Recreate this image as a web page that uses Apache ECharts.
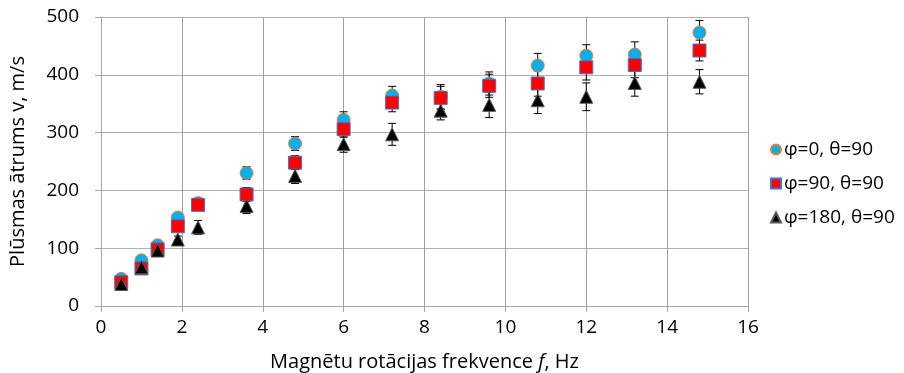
<!DOCTYPE html>
<html>
<head>
<meta charset="utf-8">
<script src="https://cdn.jsdelivr.net/npm/echarts@6/dist/echarts.min.js"></script>
<style>
  html, body { margin: 0; padding: 0; background: #fff; }
  #chart { width: 904px; height: 373px; }
</style>
</head>
<body>
<div id="chart"></div>
<script>
// Rotation frequency of the magnets, Hz
const freq = [0.5, 1.0, 1.4, 1.9, 2.4, 3.6, 4.8, 6.0, 7.2, 8.4, 9.6, 10.8, 12.0, 13.2, 14.8];

// Flow velocity, m/s, for each magnet orientation
const seriesNames = ['φ=0, θ=90', 'φ=90, θ=90', 'φ=180, θ=90'];
const vPhi0   = [47, 79, 105, 153, 178, 230, 281, 322, 364, 362, 385, 416, 433, 435, 473];
const vPhi90  = [41, 65, 98, 138, 175, 193, 248, 306, 352, 360, 381, 385, 413, 417, 442];
const vPhi180 = [38, 67, 96, 115, 136, 173, 225, 280, 297, 338, 348, 356, 362, 386, 388];

// Measurement uncertainty (± m/s)
const ePhi0   = [4, 5, 5, 6, 6, 11, 12, 14, 16, 21, 20, 21, 19, 22, 21];
const ePhi90  = [4, 5, 5, 6, 6, 12, 12, 14, 16, 20, 20, 22, 22, 22, 18];
const ePhi180 = [4, 5, 5, 6, 12, 13, 13, 14, 19, 16, 22, 23, 24, 23, 21];

// Axis ticks
const xTicks = [0, 2, 4, 6, 8, 10, 12, 14, 16];
const yTicks = [0, 100, 200, 300, 400, 500];

const FONT = 'Open Sans';
const FS = 19;      // tick labels and legend
const FS_NAME = 20; // axis titles

function errorBars(values, errs, id) {
  return {
    type: 'custom',
    id: id,
    silent: true,
    z: 1,
    data: freq.map((f, i) => [f, values[i], errs[i]]),
    renderItem: function (params, api) {
      const x = api.value(0), y = api.value(1), e = api.value(2);
      const top = api.coord([x, y + e]);
      const bot = api.coord([x, y - e]);
      const hw = 4;
      const st = { stroke: '#000', lineWidth: 1 };
      return {
        type: 'group',
        children: [
          { type: 'line', shape: { x1: top[0], y1: top[1], x2: bot[0], y2: bot[1] }, style: st },
          { type: 'line', shape: { x1: top[0] - hw, y1: top[1], x2: top[0] + hw, y2: top[1] }, style: st },
          { type: 'line', shape: { x1: bot[0] - hw, y1: bot[1], x2: bot[0] + hw, y2: bot[1] }, style: st }
        ]
      };
    }
  };
}

function points(name, values, symbol, color, border) {
  return {
    type: 'scatter',
    name: name,
    symbol: symbol,
    symbolSize: 13,
    z: 3,
    data: freq.map((f, i) => [f, values[i]]),
    itemStyle: { color: color, borderColor: border, borderWidth: 1, opacity: 1 }
  };
}

const chart = echarts.init(document.getElementById('chart'), null, { renderer: 'canvas' });

chart.setOption({
  animation: false,
  backgroundColor: '#fff',
  grid: { left: 101, right: 156, top: 17, bottom: 67, outerBoundsMode: 'none', containLabel: false },
  legend: {
    orient: 'vertical',
    left: 765,
    top: 135,
    itemGap: 15,
    itemWidth: 10,
    itemHeight: 10,
    textStyle: { fontFamily: FONT, fontSize: FS, color: '#000', padding: [0, 0, 0, -2] },
    data: [
      { name: seriesNames[0], icon: 'circle' },
      { name: seriesNames[1], icon: 'rect' },
      { name: seriesNames[2], icon: 'triangle' }
    ]
  },
  xAxis: {
    type: 'value',
    min: xTicks[0],
    max: xTicks[xTicks.length - 1],
    interval: 2,
    name: 'Magnētu rotācijas frekvence {i|f}, Hz',
    nameLocation: 'middle',
    nameGap: 46,
    nameTextStyle: {
      fontFamily: FONT, fontSize: FS_NAME, color: '#000',
      rich: { i: { fontFamily: FONT, fontSize: FS_NAME, fontStyle: 'italic', color: '#000' } }
    },
    axisLine: { show: true, lineStyle: { color: '#a6a6a6', width: 1 } },
    axisTick: { show: true, length: 6, lineStyle: { color: '#a6a6a6' } },
    axisLabel: { fontFamily: FONT, fontSize: FS, color: '#000', margin: 12 },
    splitLine: { show: true, lineStyle: { color: '#a0a0a0', width: 1 } }
  },
  yAxis: {
    type: 'value',
    min: yTicks[0],
    max: yTicks[yTicks.length - 1],
    interval: 100,
    name: 'Plūsmas ātrums v, m/s',
    nameLocation: 'middle',
    nameGap: 73,
    nameRotate: 90,
    nameTextStyle: { fontFamily: FONT, fontSize: FS_NAME, color: '#000' },
    axisLine: { show: true, lineStyle: { color: '#a6a6a6', width: 1 } },
    axisTick: { show: true, length: 6, lineStyle: { color: '#a6a6a6' } },
    axisLabel: { fontFamily: FONT, fontSize: FS, color: '#000', margin: 22 },
    splitLine: { show: true, lineStyle: { color: '#b0b0b0', width: 1 } }
  },
  series: [
    errorBars(vPhi0, ePhi0, 'err-phi0'),
    errorBars(vPhi90, ePhi90, 'err-phi90'),
    errorBars(vPhi180, ePhi180, 'err-phi180'),
    points(seriesNames[0], vPhi0, 'circle', '#00b0f0', '#ed7d31'),
    points(seriesNames[1], vPhi90, 'rect', '#ff0000', '#4472c4'),
    points(seriesNames[2], vPhi180, 'triangle', '#000000', '#595959')
  ]
});
</script>
</body>
</html>
